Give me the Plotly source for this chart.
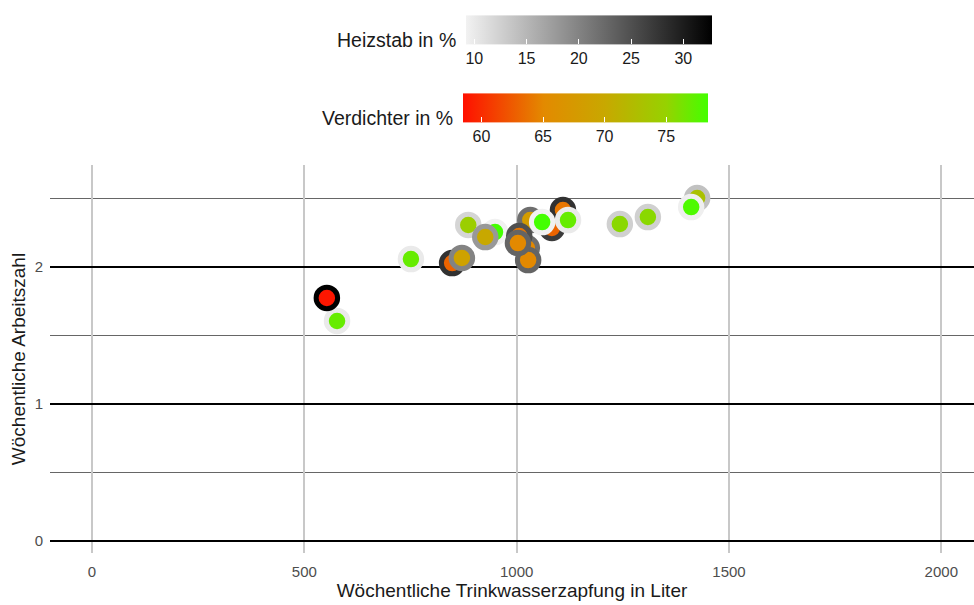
import plotly.graph_objects as go

# Data
zapfung = [577, 553, 751, 848, 871, 886, 949, 926, 1024, 1027, 1032, 1083, 1109, 1006, 1003, 1060, 1121, 1243, 1309, 1425, 1411]
arbeitszahl = [1.606, 1.774, 2.058, 2.029, 2.066, 2.307, 2.255, 2.219, 2.139, 2.051, 2.343, 2.285, 2.416, 2.226, 2.175, 2.328, 2.343, 2.314, 2.365, 2.504, 2.438]
verdichter = [77, 58.8, 77, 63, 69, 74.5, 78.5, 70, 65, 65, 68, 63, 64, 64, 65, 78.5, 77, 75.5, 75.5, 73, 78]
heizstab = [10, 33, 10, 28, 20, 12, 9.3, 18, 22, 23, 22, 27, 28, 25, 23, 9.3, 10, 12.5, 12.5, 14, 9.5]

heiz_ticks = [10, 15, 20, 25, 30]
verd_ticks = [60, 65, 70, 75]
x_ticks = [0, 500, 1000, 1500, 2000]
y_ticks = [0, 1, 2]

V_MIN, V_MAX = 58.5, 78.4
H_MIN, H_MAX = 9.2, 32.75

verd_scale = [[0, "#FF1000"], [0.33, "#E38A00"], [0.58, "#C8A800"], [0.83, "#96D200"], [1, "#44FF00"]]
heiz_scale = [[0, "#F2F2F2"], [1, "#000000"]]

W, H = 974, 605
ML, MR, MT, MB = 50, 0, 165, 52
PW, PH = W - ML - MR, H - MT - MB

def px_x(p):
    return (p - ML) / PW

def px_y(p):
    return (H - MB - p) / PH

fig = go.Figure()

# dummy trace for Heizstab colorbar
fig.add_trace(go.Scatter(
    x=zapfung, y=arbeitszahl, mode="markers", hoverinfo="skip", showlegend=False,
    marker=dict(size=1, opacity=0, color=heizstab, colorscale=heiz_scale, cmin=H_MIN, cmax=H_MAX,
                showscale=True,
                colorbar=dict(orientation="h", lenmode="pixels", len=246, thickness=29,
                              x=px_x(589), xanchor="center", y=px_y(44), yanchor="middle",
                              outlinewidth=0, tickvals=heiz_ticks, ticks="inside", tickcolor="white",
                              ticklen=5, tickwidth=1, xpad=0, ypad=0,
                              tickfont=dict(size=16, color="#1a1a1a", family="Liberation Sans")))))

fig.add_trace(go.Scatter(
    x=zapfung, y=arbeitszahl, mode="markers", showlegend=False,
    marker=dict(size=21.5, color=verdichter, colorscale=verd_scale, cmin=V_MIN, cmax=V_MAX,
                line=dict(width=5, color=heizstab, colorscale=heiz_scale, cmin=H_MIN, cmax=H_MAX),
                showscale=True,
                colorbar=dict(orientation="h", lenmode="pixels", len=245, thickness=29,
                              x=px_x(585.5), xanchor="center", y=px_y(122), yanchor="middle",
                              outlinewidth=0, tickvals=verd_ticks, ticks="inside", tickcolor="white",
                              ticklen=5, tickwidth=1, xpad=0, ypad=0,
                              tickfont=dict(size=16, color="#1a1a1a", family="Liberation Sans")))))

fig.update_layout(
    width=W, height=H,
    margin=dict(l=ML, r=MR, t=MT, b=MB),
    paper_bgcolor="white", plot_bgcolor="white",
    font=dict(family="Liberation Sans", color="#1a1a1a"),
    xaxis=dict(range=[-99, 2077], tickvals=x_ticks, showgrid=True, gridcolor="#c8c8c8", gridwidth=1.5,
               zeroline=False, showline=False, ticks="", ticklabelstandoff=8,
               tickfont=dict(size=15, color="#4d4d4d"),
               title=dict(text="Wöchentliche Trinkwasserzapfung in Liter", font=dict(size=19, color="#1a1a1a"), standoff=2)),
    yaxis=dict(range=[-0.088, 2.745], tickvals=y_ticks, showgrid=True, gridcolor="#000000", gridwidth=1.5,
               zeroline=False, showline=False, ticks="", ticklabelstandoff=6,
               minor=dict(tickvals=[0.5, 1.5, 2.5], showgrid=True, gridcolor="#666666", gridwidth=1),
               tickfont=dict(size=15, color="#4d4d4d"),
               title=dict(text="Wöchentliche Arbeitszahl", font=dict(size=19, color="#1a1a1a"), standoff=4)),
    annotations=[
        dict(text="Heizstab in %", xref="paper", yref="paper", x=px_x(458), y=px_y(40),
             xanchor="right", yanchor="middle", showarrow=False, font=dict(size=19.5, color="#1a1a1a")),
        dict(text="Verdichter in %", xref="paper", yref="paper", x=px_x(455), y=px_y(118),
             xanchor="right", yanchor="middle", showarrow=False, font=dict(size=19.5, color="#1a1a1a")),
    ],
)

fig.write_html("out.html")
